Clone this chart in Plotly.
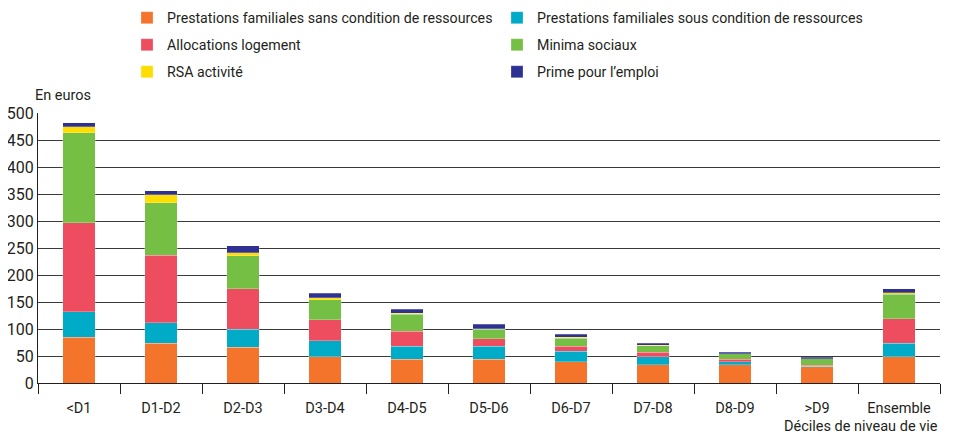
import plotly.graph_objects as go

# Déciles de niveau de vie
categories = ["<D1", "D1-D2", "D2-D3", "D3-D4", "D4-D5", "D5-D6",
              "D6-D7", "D7-D8", "D8-D9", ">D9", "Ensemble"]

# montants en euros
pf_sans_condition = [85, 74, 66, 49, 44, 44, 39, 34, 34, 30, 49]
pf_sous_condition = [47, 38, 34, 29, 24, 24, 20, 15, 5, 1, 25]
allocations_logement = [165, 125, 75, 39, 28, 14, 9, 8, 5, 2, 45]
minima_sociaux = [166, 97, 61, 37, 31, 18, 15, 12, 10, 12, 45]
rsa_activite = [12, 15, 5, 4, 2, 0.5, 2, 1, 0.5, 0.3, 3]
prime_emploi = [7, 7, 13, 8, 8, 8, 5, 4, 2, 2, 8]

series = [
    ("Prestations familiales sans condition de ressources", pf_sans_condition, "#f4742b"),
    ("Prestations familiales sous condition de ressources", pf_sous_condition, "#00abc8"),
    ("Allocations logement", allocations_logement, "#ee4c5f"),
    ("Minima sociaux", minima_sociaux, "#74bf44"),
    ("RSA activité", rsa_activite, "#ffdd00"),
    ("Prime pour l’emploi", prime_emploi, "#2e3192"),
]

FONT = "Roboto, Arial"
W, H = 948, 433  # la page ajoute 8px de marge autour

# une légende par entrée : 2 colonnes x 3 lignes
legend_cols = [119, 489]
legend_rows = [10, 37, 64]

fig = go.Figure()
legends = {}
for i, (name, values, color) in enumerate(series):
    key = "legend" if i == 0 else f"legend{i + 1}"
    legends[key] = dict(
        x=legend_cols[i % 2] / W, xanchor="left", xref="container",
        y=1 - legend_rows[i // 2] / H, yanchor="middle", yref="container",
        font=dict(size=14.2),
        itemclick=False,
        bgcolor="rgba(0,0,0,0)",
    )
    fig.add_trace(go.Bar(
        x=categories, y=values, name=name, legend=key, showlegend=True,
        marker=dict(color=color, line=dict(color="rgba(255,255,255,0.5)", width=0.5)),
    ))

fig.update_layout(
    barmode="stack",
    bargap=0.6,
    showlegend=True,
    width=W, height=H,
    paper_bgcolor="white",
    plot_bgcolor="white",
    margin=dict(l=30, r=16, t=105, b=58, autoexpand=False),
    font=dict(family=FONT, size=15, color="#231f20"),
    xaxis=dict(
        showline=True, linecolor="#231f20", linewidth=1,
        ticks="outside", tickson="boundaries", ticklen=10,
        tickcolor="#231f20",
        tickfont=dict(size=14.5),
        ticklabelstandoff=12,
        showgrid=False,
    ),
    yaxis=dict(
        range=[0, 500], dtick=50,
        showline=True, linecolor="#231f20", linewidth=1,
        showgrid=True, gridcolor="#3a3a3a", gridwidth=1,
        tickfont=dict(size=16),
        ticks="", zeroline=False,
    ),
    annotations=[
        dict(text="En euros", xref="paper", yref="paper", x=-0.005, y=1.065,
             xanchor="left", yanchor="middle", showarrow=False, font=dict(size=14.5)),
        dict(text="Déciles de niveau de vie", xref="paper", yref="paper", x=1.0, y=-0.162,
             xanchor="right", yanchor="middle", showarrow=False, font=dict(size=14.5)),
    ],
    **legends,
)

fig.write_html("out.html")
